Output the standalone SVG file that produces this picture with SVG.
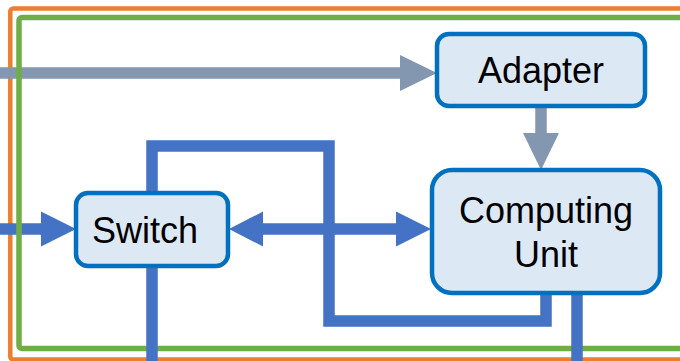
<svg xmlns="http://www.w3.org/2000/svg" width="680" height="361" viewBox="0 0 680 361">
  <defs>
    <style>
      .box { fill: #dde8f5; stroke: #0070c0; stroke-width: 4.5; }
      .label { font-family: "Liberation Sans", Arial, sans-serif; font-size: 36px; fill: #000; text-anchor: middle; }
      .blue { fill: none; stroke: #4472c4; stroke-width: 11.5; }
      .gray { fill: none; stroke: #8497b0; stroke-width: 11.5; }
      .bluehead { fill: #4472c4; }
      .grayhead { fill: #8497b0; }
    </style>
  </defs>

  <rect width="680" height="361" fill="#ffffff"/>

  <!-- outer orange boundary -->
  <rect x="10.3" y="8.5" width="700" height="351" rx="3" fill="none" stroke="#ed7d31" stroke-width="4.5"/>

  <g id="connectors">
    <!-- external inputs (drawn beneath the inner boundary) -->
    <line class="gray" x1="0" y1="73" x2="402" y2="73"/>
    <polygon class="grayhead" points="400,55 437,73 400,91"/>
    <line class="blue" x1="0" y1="229" x2="44" y2="229"/>
    <polygon class="bluehead" points="41,211.5 76,229 41,246.5"/>
  </g>

  <!-- inner green boundary -->
  <rect x="19" y="17.5" width="700" height="331" rx="3" fill="none" stroke="#70ad47" stroke-width="5.5"/>

  <g id="links">
    <!-- Adapter to Computing Unit -->
    <line class="gray" x1="541" y1="106" x2="541" y2="136"/>
    <polygon class="grayhead" points="523,133 559,133 541,170"/>
    <!-- Switch loop to Computing Unit -->
    <polyline class="blue" points="152,193 152,146 329,146 329,321 546,321 546,293"/>
    <!-- Switch downlink -->
    <line class="blue" x1="152" y1="266" x2="152" y2="361"/>
    <!-- Computing Unit downlink -->
    <line class="blue" x1="577" y1="290" x2="577" y2="361"/>
    <!-- bidirectional Switch / Computing Unit -->
    <line class="blue" x1="260" y1="229" x2="399" y2="229"/>
    <polygon class="bluehead" points="263,211.5 229,229 263,246.5"/>
    <polygon class="bluehead" points="396,211.5 431,229 396,246.5"/>
  </g>

  <g id="adapter">
    <rect class="box" x="437" y="34" width="208" height="72" rx="12"/>
    <text class="label" x="541" y="83">Adapter</text>
  </g>

  <g id="switch">
    <rect class="box" x="76" y="193" width="152" height="73" rx="12"/>
    <text class="label" x="145" y="243">Switch</text>
  </g>

  <g id="computing-unit">
    <rect class="box" x="432" y="170" width="228" height="123" rx="20"/>
    <text class="label" x="546" y="223">Computing</text>
    <text class="label" x="546" y="267">Unit</text>
  </g>
</svg>
